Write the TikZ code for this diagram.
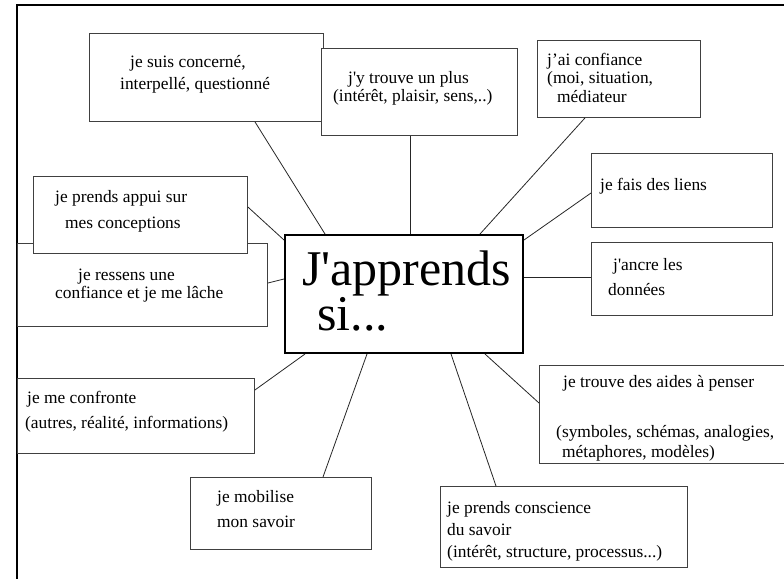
\documentclass[tikz,border=0pt]{standalone}
\usepackage{fontspec}
\setmainfont{Liberation Serif}[Ligatures=TeXOff]
\usetikzlibrary{calc}
\tikzset{
  box/.style={draw=black!75, line width=0.9pt, fill=white, inner sep=0pt, anchor=north west},
  txt/.style={inner sep=0pt, anchor=base west, font=\fontsize{17.4}{20}\selectfont},
  big/.style={inner sep=0pt, anchor=base west, align=left, font=\fontsize{50}{38}\selectfont},
  link/.style={draw=black!85, line width=0.8pt},
}
\begin{document}
\begin{tikzpicture}[x=1pt,y=-1pt]
\useasboundingbox (0,0) rectangle (784,579);
% frame
\coordinate (ftl) at (17,5);
\coordinate (ftr) at (784,5);
\coordinate (fbl) at (17,579);
\draw[line width=2.6pt] (ftr) -- (ftl) -- (fbl);
% boxes
\node[box, minimum width=234pt, minimum height=88pt] (b1) at (89,33) {};
\node[box, minimum width=196pt, minimum height=87pt] (b2) at (321,48) {};
\node[box, minimum width=163pt, minimum height=77pt] (b3) at (537,40) {};
\node[box, minimum width=181pt, minimum height=74pt] (b4) at (591,153) {};
\node[box, minimum width=181pt, minimum height=73pt] (b5) at (591,242) {};
\node[box, minimum width=250pt, minimum height=83pt] (b7) at (17,243) {};
\node[box, minimum width=214pt, minimum height=77pt] (b6) at (33,176) {};
\node[box, draw=black, line width=2pt, minimum width=238pt, minimum height=118pt] (c) at (284,234) {};
\node[box, minimum width=237pt, minimum height=75pt] (b9) at (17,378) {};
\node[box, minimum width=181pt, minimum height=72pt] (b10) at (190,477) {};
\node[box, minimum width=245pt, minimum height=98pt] (b11) at (539,365) {};
\node[box, minimum width=247pt, minimum height=81pt] (b12) at (440,486) {};
% texts
\node[txt] (t1a) at (130,67) {je suis concerné,};
\node[txt] (t1b) at (120,89) {interpellé, questionné};
\node[txt] (t2a) at (348,83) {j'y trouve un plus};
\node[txt] (t2b) at (333,101) {(intérêt, plaisir, sens,..)};
\node[txt] (t3a) at (547,65) {j’ai confiance};
\node[txt] (t3b) at (547,83) {(moi, situation,};
\node[txt] (t3c) at (557,102) {médiateur};
\node[txt] (t4a) at (600,190) {je fais des liens};
\node[txt] (t5a) at (613,270) {j'ancre les};
\node[txt] (t5b) at (608,295) {données};
\node[txt] (t6a) at (55,202) {je prends appui sur};
\node[txt] (t6b) at (65,228) {mes conceptions};
\node[txt] (t7a) at (78,280) {je ressens une};
\node[txt] (t7b) at (55,298) {confiance et je me lâche};
\node[big] (tc) at (302,330) {J'apprends\\\hspace*{15pt}si...};
\node[txt] (t9a) at (27,403) {je me confronte};
\node[txt] (t9b) at (25,428) {(autres, réalité, informations)};
\node[txt] (t10a) at (217,502) {je mobilise};
\node[txt] (t10b) at (217,527) {mon savoir};
\node[txt] (t11a) at (563,387) {je trouve des aides à penser};
\node[txt] (t11b) at (556,437) {(symboles, schémas, analogies,};
\node[txt] (t11c) at (562,457) {métaphores, modèles)};
\node[txt] (t12a) at (447,513) {je prends conscience};
\node[txt] (t12b) at (447,535) {du savoir};
\node[txt] (t12c) at (447,557) {(intérêt, structure, processus...)};
% connectors
\draw[link] ([xshift=166pt]b1.south west) -- ([xshift=41pt]c.north west);
\draw[link] ([xshift=89pt]b2.south west) -- ([xshift=126pt]c.north west);
\draw[link] ([xshift=48pt]b3.south west) -- ([xshift=196pt]c.north west);
\draw[link] ([yshift=-40pt]b4.north west) -- ([yshift=-6pt]c.north east);
\draw[link] ([yshift=-35pt]b5.north west) -- ([yshift=-43pt]c.north east);
\draw[link] ([yshift=-31pt]b6.north east) -- ([yshift=-6pt]c.north west);
\draw[link] ([yshift=-40pt]b7.north east) -- ([yshift=-45pt]c.north west);
\draw[link] ([yshift=-12pt]b9.north east) -- ([xshift=21pt]c.south west);
\draw[link] ([xshift=133pt]b10.north west) -- ([xshift=83pt]c.south west);
\draw[link] ([yshift=-38pt]b11.north west) -- ([xshift=201pt]c.south west);
\draw[link] ([xshift=56pt]b12.north west) -- ([xshift=167pt]c.south west);
\end{tikzpicture}
\end{document}
